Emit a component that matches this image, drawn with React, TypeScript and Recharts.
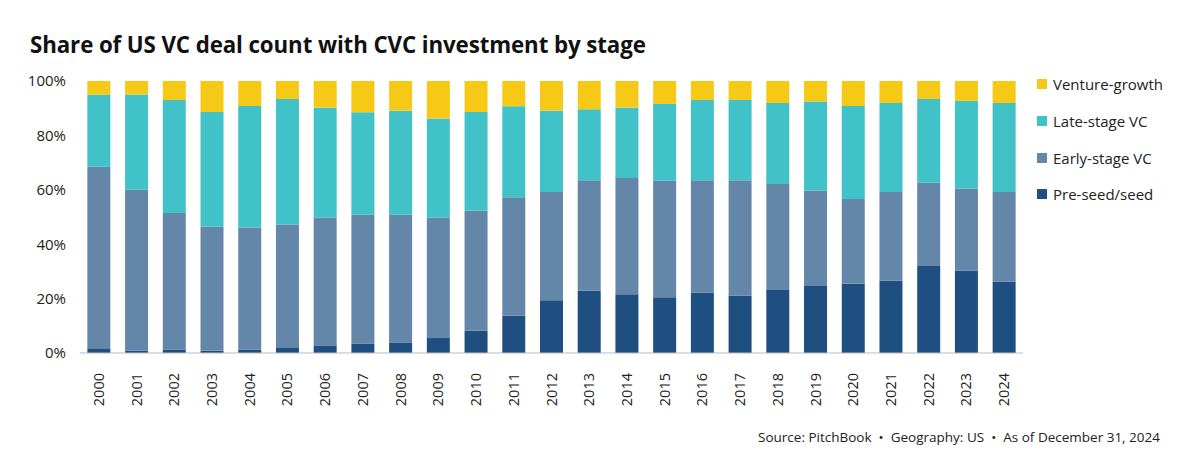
import { BarChart, Bar, XAxis, YAxis } from "recharts";

const years = [
  "2000", "2001", "2002", "2003", "2004", "2005", "2006", "2007", "2008",
  "2009", "2010", "2011", "2012", "2013", "2014", "2015", "2016", "2017",
  "2018", "2019", "2020", "2021", "2022", "2023", "2024",
];

const preSeed = [
  1.5, 0.8, 1.3, 0.8, 1.3, 2.1, 2.8, 3.5, 3.9, 5.5, 8.2, 13.7, 19.4, 22.9,
  21.6, 20.5, 22.2, 21.1, 23.2, 24.6, 25.5, 26.6, 32.0, 30.3, 26.3,
];
const earlyStage = [
  67.0, 59.2, 50.2, 45.7, 44.8, 45.1, 46.9, 47.3, 46.9, 44.2, 44.1, 43.6,
  39.8, 40.6, 42.7, 42.8, 41.3, 42.4, 38.9, 35.1, 31.1, 32.6, 30.6, 30.1, 32.9,
];
const lateStage = [
  26.5, 35.0, 41.5, 42.1, 44.7, 46.2, 40.5, 37.7, 38.3, 36.5, 36.3, 33.4,
  29.9, 26.1, 25.9, 28.3, 29.5, 29.5, 29.8, 32.8, 34.2, 32.7, 30.8, 32.3, 32.7,
];
const ventureGrowth = [
  5.0, 5.0, 7.0, 11.4, 9.2, 6.6, 9.8, 11.5, 10.9, 13.8, 11.4, 9.3, 10.9,
  10.4, 9.8, 8.4, 7.0, 7.0, 8.1, 7.5, 9.2, 8.1, 6.6, 7.3, 8.1,
];

const yTicks = [0, 20, 40, 60, 80, 100];

const series = [
  { key: "preSeed", name: "Pre-seed/seed", color: "#1f4f80" },
  { key: "early", name: "Early-stage VC", color: "#6487a9" },
  { key: "late", name: "Late-stage VC", color: "#41c1c8" },
  { key: "growth", name: "Venture-growth", color: "#f5c915" },
];

const data = years.map((year, i) => ({
  year,
  preSeed: preSeed[i],
  early: earlyStage[i],
  late: lateStage[i],
  growth: ventureGrowth[i],
}));

const FONT = "'Open Sans', sans-serif";

function YearTick({ x, y, payload }: any) {
  return (
    <text
      x={x + 5}
      y={y + 12}
      transform={`rotate(-90, ${x + 5}, ${y + 12})`}
      textAnchor="end"
      fontSize={14.5}
      fontFamily={FONT}
      fill="#222"
    >
      {payload.value}
    </text>
  );
}

export default function App() {
  const legendItems = [...series].reverse();
  return (
    <div
      style={{
        position: "absolute",
        left: 0,
        top: 0,
        width: 1200,
        height: 471,
        background: "#fff",
        fontFamily: FONT,
      }}
    >
      <div
        style={{
          position: "absolute",
          left: 30,
          top: 29,
          fontSize: 22.3,
          fontWeight: 700,
          color: "#111",
          whiteSpace: "nowrap",
          letterSpacing: -0.1,
        }}
      >
        Share of US VC deal count with CVC investment by stage
      </div>
      <BarChart
        width={1200}
        height={471}
        data={data}
        margin={{ top: 81, right: 177, left: 0, bottom: 0 }}
        barCategoryGap="19.5%"
      >
        <XAxis
          dataKey="year"
          height={118}
          tick={<YearTick />}
          tickLine={false}
          axisLine={{ stroke: "#bbb" }}
          interval={0}
        />
        <YAxis
          width={80}
          domain={[0, 100]}
          ticks={yTicks}
          tickFormatter={(v) => `${v}%`}
          axisLine={false}
          tickLine={false}
          tickMargin={8}
          tick={{ fontSize: 15, fill: "#222", fontFamily: FONT }}
        />
        {series.map((s) => (
          <Bar
            key={s.key}
            dataKey={s.key}
            name={s.name}
            stackId="a"
            fill={s.color}
            isAnimationActive={false}
          />
        ))}
      </BarChart>
      <div
        style={{
          position: "absolute",
          left: 1037,
          top: 66,
          fontSize: 15,
          color: "#222",
        }}
      >
        {legendItems.map((s) => (
          <div
            key={s.key}
            style={{ display: "flex", alignItems: "center", height: 36.7 }}
          >
            <span
              style={{
                width: 10,
                height: 10,
                background: s.color,
                marginRight: 6,
                display: "inline-block",
              }}
            />
            {s.name}
          </div>
        ))}
      </div>
      <div
        style={{
          position: "absolute",
          right: 40,
          top: 428,
          fontSize: 13.5,
          color: "#222",
          whiteSpace: "nowrap",
        }}
      >
        Source: PitchBook &nbsp;•&nbsp; Geography: US &nbsp;•&nbsp; As of December 31, 2024
      </div>
    </div>
  );
}
